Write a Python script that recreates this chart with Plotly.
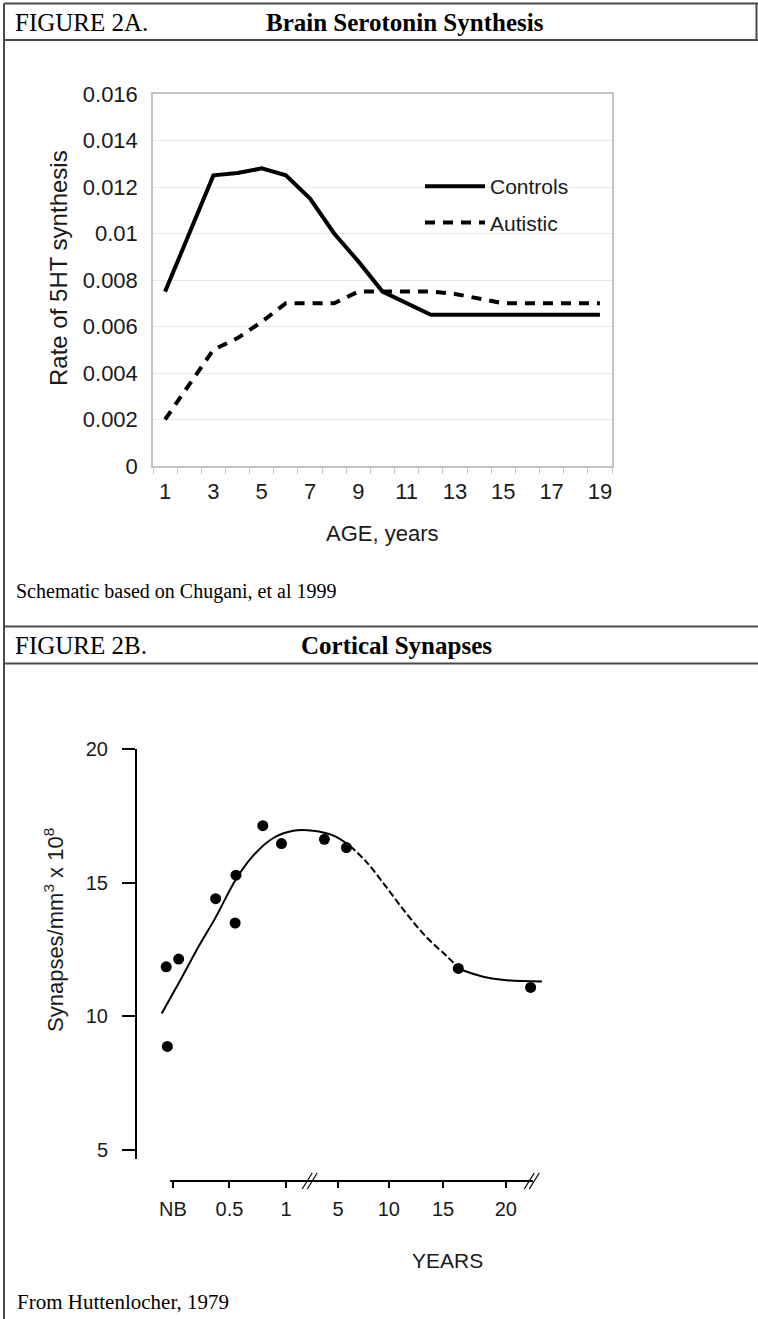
import plotly.graph_objects as go

W, H = 758, 1319

# ---------------- Figure 2A data ----------------
ages_a = list(range(1, 20))
controls = [0.0075, 0.0100, 0.0125, 0.0126, 0.0128, 0.0125, 0.0115, 0.0100, 0.0088,
            0.0075, 0.0070, 0.0065, 0.0065, 0.0065, 0.0065, 0.0065, 0.0065, 0.0065, 0.0065]
autistic = [0.0020, 0.0035, 0.0050, 0.0055, 0.0062, 0.0070, 0.0070, 0.0070, 0.0075,
            0.0075, 0.0075, 0.0075, 0.0074, 0.0072, 0.0070, 0.0070, 0.0070, 0.0070, 0.0070]
a_xtick_vals = [1, 3, 5, 7, 9, 11, 13, 15, 17, 19]
a_ytick_vals = [0, 0.002, 0.004, 0.006, 0.008, 0.010, 0.012, 0.014, 0.016]
a_ytick_text = ["0", "0.002", "0.004", "0.006", "0.008", "0.01", "0.012", "0.014", "0.016"]

# ---------------- Figure 2B data ----------------
# x values are in axis units of the broken age axis (NB=0, 0.5 yr=1, 1 yr=2, then 5..20 yrs)
b_tick_pos = [0, 1, 2, 2.92, 3.82, 4.78, 5.89]
b_tick_text = ["NB", "0.5", "1", "5", "10", "15", "20"]
b_ytick_vals = [5, 10, 15, 20]
dots_x = [-0.12, 0.10, -0.10, 0.755, 1.10, 1.115, 1.59, 1.92, 2.68, 3.07, 5.05, 6.33]
dots_y = [11.85, 12.14, 8.87, 14.40, 13.49, 15.28, 17.13, 16.46, 16.62, 16.31, 11.79, 11.08]
curve_x = [-0.20, 0.124, 0.478, 0.755, 1.115, 1.42, 1.776, 2.13, 2.48, 2.84, 3.13,
           3.43, 3.78, 4.14, 4.49, 4.84, 5.08, 5.49, 5.91, 6.53]
curve_y = [10.10, 11.33, 12.70, 13.70, 15.13, 16.01, 16.67, 16.94, 16.94, 16.76, 16.38,
           15.76, 14.82, 13.82, 12.95, 12.26, 11.76, 11.48, 11.35, 11.30]
curve_segments = [(0, 10, "solid"), (10, 16, "dash"), (16, 19, "solid")]


def fx(p):
    return p / W


def fy(p):
    return 1 - p / H


SANS = "Liberation Sans, Arial, sans-serif"
SERIF = "Liberation Serif, Times New Roman, serif"

fig = go.Figure()

fig.add_trace(go.Scatter(x=ages_a, y=controls, mode="lines", name="Controls",
                         line=dict(color="black", width=4), xaxis="x", yaxis="y",
                         legendgroup="c"))
fig.add_trace(go.Scatter(x=ages_a, y=autistic, mode="lines", name="Autistic",
                         line=dict(color="black", width=4, dash="10px,8px"),
                         xaxis="x", yaxis="y", legendgroup="a"))

for i0, i1, style in curve_segments:
    fig.add_trace(go.Scatter(x=curve_x[i0:i1 + 1], y=curve_y[i0:i1 + 1], mode="lines",
                             line=dict(color="black", width=2, shape="spline",
                                       dash="solid" if style == "solid" else "7px,3px"),
                             xaxis="x2", yaxis="y2", showlegend=False))
fig.add_trace(go.Scatter(x=dots_x, y=dots_y, mode="markers",
                         marker=dict(color="black", size=11),
                         xaxis="x2", yaxis="y2", showlegend=False, cliponaxis=False))

shapes = []
border = dict(color="#4a4a4a", width=2)
for y in (3.5, 40, 626.5, 663.5):
    shapes.append(dict(type="line", xref="paper", yref="paper", x0=fx(4), x1=fx(758),
                       y0=fy(y), y1=fy(y), line=border))
shapes.append(dict(type="line", xref="paper", yref="paper", x0=fx(4), x1=fx(4),
                   y0=fy(3.5), y1=0, line=border))
shapes.append(dict(type="line", xref="paper", yref="paper", x0=fx(756.5), x1=fx(756.5),
                   y0=fy(3.5), y1=fy(40), line=border))

# Figure 2B x axis line with break marks
xaxis_y = fy(1181)
shapes.append(dict(type="line", xref="x2", yref="paper", x0=-0.05, x1=6.37,
                   y0=xaxis_y, y1=xaxis_y, line=dict(color="black", width=2)))
for anchor in (2.42, 6.35):
    for off in (-2.5, 2.5):
        shapes.append(dict(type="line", xref="x2", yref="paper", xsizemode="pixel",
                           ysizemode="pixel", xanchor=anchor, yanchor=xaxis_y,
                           x0=off - 5, x1=off + 5, y0=-8, y1=8,
                           line=dict(color="black", width=1.2)))

annotations = [
    dict(text="FIGURE 2A.", x=fx(13), y=fy(22), xanchor="left", yanchor="middle",
         font=dict(family=SERIF, size=25, color="black")),
    dict(text="<b>Brain Serotonin Synthesis</b>", x=fx(405), y=fy(22), xanchor="center",
         yanchor="middle", font=dict(family=SERIF, size=25, color="black")),
    dict(text="FIGURE 2B.", x=fx(13), y=fy(645), xanchor="left", yanchor="middle",
         font=dict(family=SERIF, size=25, color="black")),
    dict(text="<b>Cortical Synapses</b>", x=fx(396), y=fy(645), xanchor="center",
         yanchor="middle", font=dict(family=SERIF, size=25, color="black")),
    dict(text="Schematic based on Chugani, et al 1999", x=fx(14), y=fy(591),
         xanchor="left", yanchor="middle", font=dict(family=SERIF, size=20, color="black")),
    dict(text="From Huttenlocher, 1979", x=fx(15), y=fy(1302), xanchor="left",
         yanchor="middle", font=dict(family=SERIF, size=21, color="black")),
    dict(text="AGE, years", x=fx(382), y=fy(533), xanchor="center", yanchor="middle",
         font=dict(family=SANS, size=22, color="#1a1a1a")),
    dict(text="Rate of 5HT synthesis", x=fx(58), y=fy(268), xanchor="center",
         yanchor="middle", textangle=-90, font=dict(family=SANS, size=24, color="#1a1a1a")),
    dict(text="YEARS", x=fx(447), y=fy(1260), xanchor="center", yanchor="middle",
         font=dict(family=SANS, size=21, color="#1a1a1a")),
    dict(text="Synapses/mm<sup>3</sup> x 10<sup>8</sup>", x=fx(54), y=fy(930),
         xanchor="center", yanchor="middle", textangle=-90,
         font=dict(family=SANS, size=22, color="#1a1a1a")),
]
for a in annotations:
    a.update(xref="paper", yref="paper", showarrow=False)

fig.update_layout(
    width=W, height=H, margin=dict(l=0, r=0, t=0, b=0, pad=0, autoexpand=False),
    paper_bgcolor="white", plot_bgcolor="white",
    showlegend=True,
    legend=dict(x=fx(420), y=fy(166), xanchor="left", yanchor="top",
                font=dict(family=SANS, size=21, color="#1a1a1a"),
                bgcolor="rgba(255,255,255,0)", itemwidth=60, tracegroupgap=6),
    shapes=shapes, annotations=annotations,
    xaxis=dict(domain=[fx(153), fx(612)], range=[0.5, 19.5], anchor="y",
               tickmode="array", tickvals=a_xtick_vals, ticks="",
               showline=True, mirror=True, linecolor="#c4c4c4", linewidth=1.5,
               showgrid=False, zeroline=False, ticklabelstandoff=5,
               tickfont=dict(family=SANS, size=22, color="#1a1a1a"),
               minor=dict(tickvals=[i + 0.5 for i in range(0, 20)], ticks="outside",
                          ticklen=6, tickcolor="#c4c4c4", tickwidth=1, showgrid=False)),
    yaxis=dict(domain=[fy(466), fy(94)], range=[0, 0.016], anchor="x",
               tickmode="array", tickvals=a_ytick_vals, ticktext=a_ytick_text, ticks="",
               showline=True, mirror=True, linecolor="#c4c4c4", linewidth=1.5,
               showgrid=True, gridcolor="#e8e8e8", gridwidth=1, zeroline=False,
               ticklabelstandoff=9,
               tickfont=dict(family=SANS, size=22, color="#1a1a1a")),
    xaxis2=dict(domain=[fx(150), fx(560)], range=[-0.407, 6.85], anchor="free",
                position=xaxis_y, tickmode="array", tickvals=b_tick_pos,
                ticktext=b_tick_text, ticks="outside", ticklen=6, tickwidth=2,
                tickcolor="black", showline=False, showgrid=False, zeroline=False,
                ticklabelstandoff=4,
                tickfont=dict(family=SANS, size=20, color="#1a1a1a")),
    yaxis2=dict(domain=[fy(1159), fy(749)], range=[4.66, 20], anchor="free",
                position=fx(136), tickmode="array", tickvals=b_ytick_vals,
                ticks="outside", ticklen=13, tickwidth=2, tickcolor="black",
                showline=True, linecolor="black", linewidth=2, showgrid=False,
                zeroline=False, ticklabelstandoff=10,
                tickfont=dict(family=SANS, size=20, color="#1a1a1a")),
)

fig.write_html("out.html", config={"displayModeBar": False},
               post_script="document.body.style.margin='0';"
                           "document.body.style.overflow='hidden';")
